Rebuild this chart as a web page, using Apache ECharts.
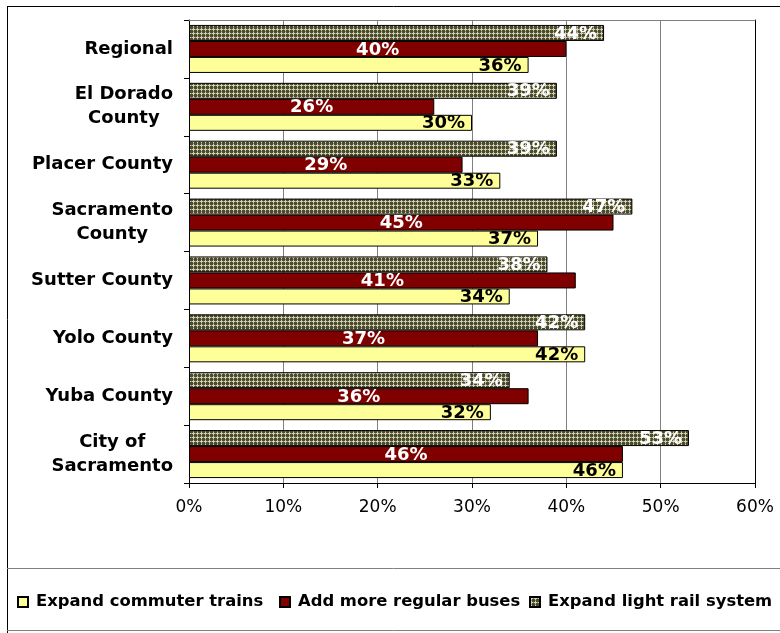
<!DOCTYPE html>
<html>
<head>
<meta charset="utf-8">
<script src="https://cdn.jsdelivr.net/npm/echarts@6/dist/echarts.min.js"></script>
<style>
  html, body { margin: 0; padding: 0; background: #fff; }
  #chart { width: 780px; height: 633px; }
</style>
</head>
<body>
<div id="chart"></div>
<script>
// Survey results: support for transit improvements by area (percent)
const categories = ['Regional', 'El Dorado\nCounty', 'Placer County', 'Sacramento\nCounty',
  'Sutter County', 'Yolo County', 'Yuba County', 'City of\nSacramento'];
const lightRail = [44, 39, 39, 47, 38, 42, 34, 53];
const buses = [40, 26, 29, 45, 41, 37, 36, 46];
const trains = [36, 30, 33, 37, 34, 42, 32, 46];
const xTicks = { min: 0, max: 60, step: 10 };
const seriesNames = ['Expand commuter trains', 'Add more regular buses', 'Expand light rail system'];

const FONT = 'DejaVu Sans';

// Small checker hatch used for the light rail bars: light crosses on dark olive
function makeHatch() {
  const c = document.createElement('canvas');
  c.width = 4; c.height = 4;
  const ctx = c.getContext('2d');
  ctx.fillStyle = '#4c4c2c';
  ctx.fillRect(0, 0, 4, 4);
  ctx.fillStyle = '#d2d2bb';
  [[1, 0], [0, 1], [1, 1], [2, 1], [1, 2]].forEach(p => ctx.fillRect(p[0], p[1], 1, 1));
  ctx.fillStyle = '#8a8a6c';
  [[3, 1], [1, 3]].forEach(p => ctx.fillRect(p[0], p[1], 1, 1));
  return c;
}
const hatch = { image: makeHatch(), repeat: 'repeat' };

const labelBase = {
  show: true,
  fontFamily: FONT,
  fontWeight: 'bold',
  fontSize: 18,
  formatter: '{c}%',
  offset: [0, 1]
};

const chart = echarts.init(document.getElementById('chart'), null, { renderer: 'canvas' });

const legendText = { fontFamily: FONT, fontWeight: 'bold', fontSize: 16.4, color: '#000', padding: [0, 0, 0, 3] };
function legendAt(name, left) {
  return {
    data: [name], left: left, top: 594, padding: 0, icon: 'rect', itemWidth: 10, itemHeight: 10,
    textStyle: legendText, selectedMode: false
  };
}

chart.setOption({
  animation: false,
  backgroundColor: '#fff',
  grid: { left: 189, right: 25, top: 20, bottom: 150 },
  xAxis: [{
    type: 'value', min: xTicks.min, max: xTicks.max, interval: xTicks.step,
    axisLine: { show: true, onZero: false, lineStyle: { color: '#000', width: 1 } },
    axisTick: { show: true, length: 5, lineStyle: { color: '#000' } },
    axisLabel: { formatter: '{value}%', fontFamily: FONT, fontSize: 17, color: '#000', margin: 16 },
    splitLine: { show: true, lineStyle: { color: '#808080', width: 1 } }
  }, {
    type: 'value', position: 'top', min: xTicks.min, max: xTicks.max, interval: xTicks.step,
    axisLine: { show: true, onZero: false, lineStyle: { color: '#808080', width: 1 } },
    axisTick: { show: false }, axisLabel: { show: false }, splitLine: { show: false }
  }],
  yAxis: [{
    type: 'category', data: categories, inverse: true,
    axisLine: { show: true, onZero: false, lineStyle: { color: '#000', width: 1 } },
    axisTick: { show: true, length: 5, lineStyle: { color: '#000' } },
    axisLabel: {
      margin: 16,
      formatter: v => v.split('\n').map(l => '{c|' + l + '}').join('\n'),
      rich: { c: { align: 'center', fontFamily: FONT, fontWeight: 'bold', fontSize: 18, color: '#000', lineHeight: 24 } }
    },
    splitLine: { show: false }
  }, {
    type: 'category', data: categories, inverse: true, position: 'right',
    axisLine: { show: true, onZero: false, lineStyle: { color: '#000', width: 1 } },
    axisTick: { show: false }, axisLabel: { show: false }, splitLine: { show: false }
  }],
  legend: [
    legendAt(seriesNames[0], 17),
    legendAt(seriesNames[1], 279),
    legendAt(seriesNames[2], 529)
  ],
  series: [{
    name: seriesNames[2], type: 'bar', data: lightRail, barWidth: 16, barGap: '0%',
    itemStyle: { color: hatch, borderColor: '#000', borderWidth: 1 },
    label: Object.assign({}, labelBase, { position: 'insideRight', distance: 7, color: '#fff' })
  }, {
    name: seriesNames[1], type: 'bar', data: buses, barWidth: 16, barGap: '0%',
    itemStyle: { color: '#800000', borderColor: '#000', borderWidth: 1 },
    label: Object.assign({}, labelBase, { position: 'inside', color: '#fff' })
  }, {
    name: seriesNames[0], type: 'bar', data: trains, barWidth: 16, barGap: '0%',
    itemStyle: { color: '#ffff99', borderColor: '#000', borderWidth: 1 },
    label: Object.assign({}, labelBase, { position: 'insideRight', distance: 7, color: '#000' })
  }],
  graphic: [
    { type: 'line', silent: true, shape: { x1: 7.5, y1: 6, x2: 7.5, y2: 633 }, style: { stroke: '#000', lineWidth: 1 } },
    { type: 'line', silent: true, shape: { x1: 7, y1: 6.5, x2: 780, y2: 6.5 }, style: { stroke: '#000', lineWidth: 1 } },
    { type: 'line', silent: true, shape: { x1: 7, y1: 568.5, x2: 780, y2: 568.5 }, style: { stroke: '#808080', lineWidth: 1 } },
    { type: 'line', silent: true, shape: { x1: 7, y1: 630.5, x2: 780, y2: 630.5 }, style: { stroke: '#808080', lineWidth: 1 } }
  ]
});
</script>
</body>
</html>
